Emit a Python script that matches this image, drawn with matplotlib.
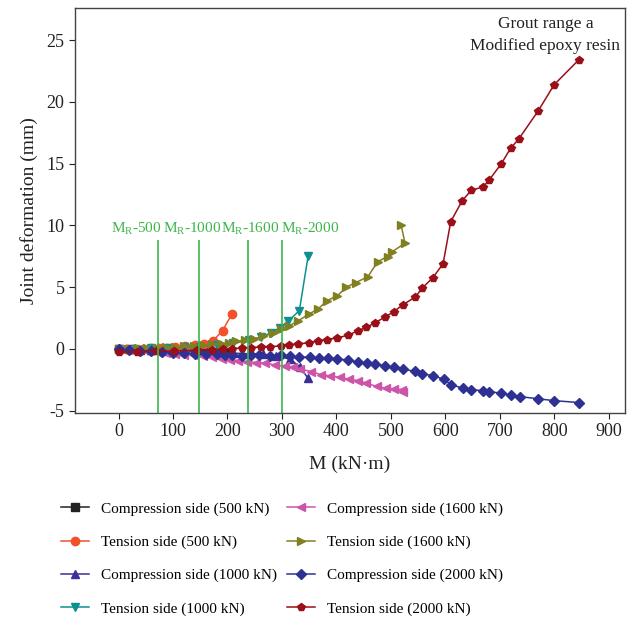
import numpy as np
import matplotlib
matplotlib.use('Agg')
import matplotlib.pyplot as plt

plt.rcParams['font.family'] = ['Liberation Serif', 'DejaVu Serif']
plt.rcParams['mathtext.fontset'] = 'custom'
plt.rcParams['mathtext.rm'] = 'Liberation Serif'
plt.rcParams['axes.unicode_minus'] = False

# Compression side (500 kN)
c500_x = [0, 20, 40, 60, 80, 100, 120, 140, 160, 180, 200]
c500_y = [0, -0.03, -0.06, -0.09, -0.12, -0.15, -0.18, -0.21, -0.24, -0.27, -0.3]
# Tension side (500 kN)
t500_x = [0, 15, 30, 45, 60, 75, 89, 104, 122, 140, 157, 174, 191, 208]
t500_y = [0, 0.0, 0.01, 0.02, 0.03, 0.04, 0.06, 0.11, 0.19, 0.27, 0.4, 0.67, 1.48, 2.8]
# Compression side (1000 kN)
c1000_x = [0, 30, 60, 90, 120, 150, 180, 210, 240, 265, 290, 315, 333, 348]
c1000_y = [0, -0.05, -0.1, -0.15, -0.2, -0.25, -0.3, -0.35, -0.4, -0.45, -0.55, -0.85, -1.45, -2.4]
# Tension side (1000 kN)
t1000_x = [0, 30, 60, 90, 120, 150, 180, 210, 240, 262, 280, 296, 312, 332, 348]
t1000_y = [0, 0.02, 0.05, 0.08, 0.12, 0.18, 0.3, 0.45, 0.7, 0.95, 1.3, 1.7, 2.25, 3.1, 7.5]
# Compression side (1600 kN)
c1600_x = [0, 17, 35, 52, 70, 87, 104, 121, 138, 155, 172, 189, 205, 220, 235, 253,
           269, 287, 305, 321, 334, 354, 372, 389, 406, 424, 439, 455, 474, 491, 505, 520, 522]
c1600_y = [-0.05, -0.1, -0.15, -0.2, -0.27, -0.33, -0.4, -0.47, -0.54, -0.62, -0.7, -0.8,
           -0.89, -0.95, -1.03, -1.11, -1.16, -1.3, -1.43, -1.48, -1.65, -1.84, -2.1, -2.19,
           -2.32, -2.46, -2.57, -2.78, -3.05, -3.19, -3.27, -3.3, -3.5]
# Tension side (1600 kN)
t1600_x = [0, 17, 35, 52, 70, 87, 104, 121, 138, 155, 172, 189, 203, 216, 232, 249, 266,
           283, 299, 313, 330, 350, 366, 383, 402, 418, 436, 458, 476, 494, 503, 526, 519]
t1600_y = [0, 0.02, 0.04, 0.06, 0.09, 0.12, 0.16, 0.2, 0.25, 0.3, 0.36, 0.42, 0.5, 0.6,
           0.68, 0.81, 1.0, 1.27, 1.62, 1.86, 2.27, 2.83, 3.21, 3.91, 4.3, 5.0, 5.37, 5.85,
           7.07, 7.47, 7.88, 8.56, 10.0]
# Compression side (2000 kN)
c2000_x = [0, 20, 40, 60, 80, 100, 120, 140, 160, 180, 195, 208, 226, 243, 258, 278, 298,
           314, 331, 351, 368, 384, 402, 421, 439, 456, 471, 490, 506, 522, 545, 558, 578,
           597, 611, 633, 648, 669, 681, 703, 720, 737, 771, 800, 845]
c2000_y = [-0.05, -0.1, -0.15, -0.2, -0.25, -0.3, -0.33, -0.38, -0.42, -0.45, -0.48, -0.5,
           -0.55, -0.52, -0.54, -0.56, -0.52, -0.62, -0.68, -0.67, -0.75, -0.76, -0.83, -0.9,
           -1.08, -1.18, -1.24, -1.38, -1.51, -1.65, -1.83, -2.01, -2.18, -2.47, -2.91, -3.2,
           -3.3, -3.4, -3.47, -3.6, -3.75, -3.87, -4.05, -4.2, -4.35]
# Tension side (2000 kN)
t2000_x = [0, 33, 68, 101, 144, 172, 191, 208, 226, 244, 261, 278, 298, 313, 330, 349, 366,
           383, 401, 422, 439, 455, 470, 489, 505, 522, 545, 558, 577, 596, 610, 631, 648,
           669, 681, 703, 720, 735, 771, 800, 845]
t2000_y = [-0.27, -0.25, -0.2, -0.18, -0.1, -0.08, -0.05, 0.0, 0.06, 0.1, 0.13, 0.16, 0.24,
           0.3, 0.38, 0.5, 0.62, 0.75, 0.89, 1.1, 1.46, 1.75, 2.08, 2.57, 3.0, 3.56, 4.2,
           4.94, 5.75, 6.9, 10.3, 12.0, 12.85, 13.1, 13.7, 15.0, 16.25, 17.0, 19.3, 21.4, 23.4]

series = [
    (c500_x, c500_y, 'Compression side (500 kN)', '#222222', 's'),
    (t500_x, t500_y, 'Tension side (500 kN)', '#f2512c', 'o'),
    (c1000_x, c1000_y, 'Compression side (1000 kN)', '#3b2f98', '^'),
    (t1000_x, t1000_y, 'Tension side (1000 kN)', '#0f9090', 'v'),
    (c1600_x, c1600_y, 'Compression side (1600 kN)', '#cc55aa', '<'),
    (t1600_x, t1600_y, 'Tension side (1600 kN)', '#808020', '>'),
    (c2000_x, c2000_y, 'Compression side (2000 kN)', '#2e3192', 'D'),
    (t2000_x, t2000_y, 'Tension side (2000 kN)', '#9a0f18', 'p'),
]

# M_R reference lines
mr_x = [73, 148, 238, 300]
mr_labels = ['500', '1000', '1600', '2000']
mr_label_x = [-14, 82, 188, 298]

fig = plt.figure(figsize=(6.38, 6.22), dpi=100)
ax = fig.add_axes([0.1176, 0.336, 0.862, 0.651])

ymin, ymax = -5.2, 27.6
for x, y, lab, col, mk in series:
    ms = 5 if mk == 'D' else 6
    ax.plot(x, y, color=col, marker=mk, markersize=ms, linewidth=1.1, label=lab)

green = '#3cb54a'
ax.vlines(mr_x, ymin, 8.8, colors=green, linewidth=1.2)
for lx, lab in zip(mr_label_x, mr_labels):
    ax.text(lx, 9.7, r'M$_\mathregular{R}$-' + lab, color=green, fontsize=11,
            va='center', ha='left')

ax.text(784, 25.4, 'Grout range a\nModified epoxy resin', ha='center', va='center',
        fontsize=12.5, linespacing=1.5, color='#222222')

ax.set_xlim(-80, 930)
ax.set_ylim(ymin, ymax)
ax.set_xticks(range(0, 901, 100))
ax.set_yticks(range(-5, 26, 5))
ax.tick_params(direction='out', labelsize=13, length=4, colors='#222222')
for s in ax.spines.values():
    s.set_color('#444444')
    s.set_linewidth(1.0)

ax.set_xlabel('M (kN·m)', fontsize=14, color='#222222', labelpad=11)
ax.set_ylabel('Joint deformation (mm)', fontsize=14, color='#222222', labelpad=6)

fig.legend(loc='upper left', bbox_to_anchor=(0.074, 0.215), ncol=2, frameon=False,
           fontsize=11, handlelength=1.85, columnspacing=0.6, labelspacing=1.27,
           handletextpad=0.8)

fig.savefig('out.png', dpi=100)
